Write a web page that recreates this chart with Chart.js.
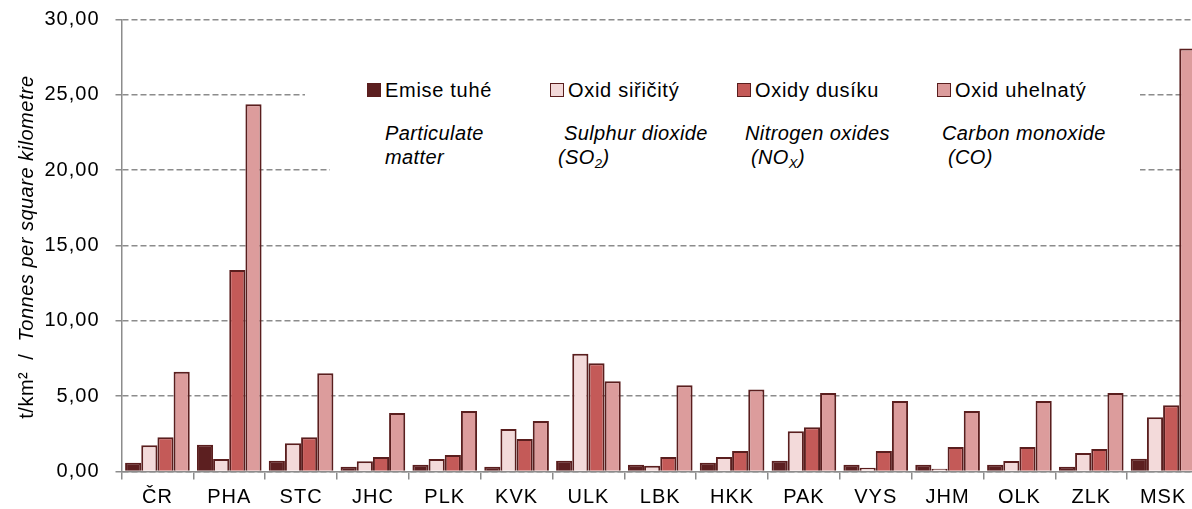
<!DOCTYPE html>
<html>
<head>
<meta charset="utf-8">
<script src="https://cdn.jsdelivr.net/npm/chart.js@4"></script>
<style>
  body { margin: 0; overflow: hidden; background: #fff; }
  #wrap { position: relative; width: 1199px; height: 509px; font-family: "Liberation Sans", Arial, sans-serif; }
  .box { position: absolute; background: #fff; }
  .t { position: absolute; white-space: nowrap; font-size: 20px; line-height: 24px; color: #000; letter-spacing: 0.7px; }
  .en { font-style: italic; letter-spacing: 0.4px; }
  .sq { position: absolute; width: 12px; height: 12px; border: 1px solid #5a1e1e; }
  sub { font-size: 13px; vertical-align: -4px; line-height: 0; }
  #ytitle { position: absolute; left: -174px; top: 235px; width: 400px; height: 24px; line-height: 24px;
            text-align: center; font-size: 20px; letter-spacing: 0.5px; transform: rotate(-90deg); white-space: nowrap; }
</style>
</head>
<body>
<div id="wrap">
  <canvas id="chart"></canvas>
  <div id="ytitle">t/km²&nbsp;&nbsp;/&nbsp;&nbsp;<i>Tonnes per square kilometre</i></div>
  <div class="box" style="left:305px;top:66px;width:835px;height:52px"></div>
  <div class="box" style="left:330px;top:118px;width:810px;height:72px"></div>
  <div id="legend"></div>
</div>
<script>
var categories = ['ČR', 'PHA', 'STC', 'JHC', 'PLK', 'KVK', 'ULK', 'LBK', 'HKK', 'PAK', 'VYS', 'JHM', 'OLK', 'ZLK', 'MSK'];
var seriesNames = ['Emise tuhé', 'Oxid siřičitý', 'Oxidy dusíku', 'Oxid uhelnatý'];
var seriesNamesEn = ['Particulate<br>matter', '&nbsp;Sulphur dioxide<br>(SO<sub>2</sub>)', 'Nitrogen oxides<br>&nbsp;(NO<sub>X</sub>)', 'Carbon monoxide<br>&nbsp;(CO)'];
var particulate = [0.58, 1.78, 0.72, 0.32, 0.45, 0.32, 0.72, 0.45, 0.58, 0.72, 0.45, 0.45, 0.45, 0.32, 0.85];
var sulphurDioxide = [1.74, 0.83, 1.87, 0.68, 0.83, 2.82, 7.82, 0.38, 0.96, 2.67, 0.25, 0.18, 0.70, 1.23, 3.60];
var nitrogenOxides = [2.27, 13.37, 2.27, 0.96, 1.09, 2.16, 7.18, 0.96, 1.36, 2.93, 1.36, 1.63, 1.63, 1.49, 4.39];
var carbonMonoxide = [6.62, 24.37, 6.52, 3.88, 4.01, 3.35, 5.99, 5.72, 5.45, 5.21, 4.68, 4.01, 4.68, 5.21, 28.08];
var yTicks = [0, 5, 10, 15, 20, 25, 30];

var colors = ['#5c1f20', '#f3dada', '#c45a58', '#dc9c9c'];
var edge = '#5a1e1e';
var values = [particulate, sulphurDioxide, nitrogenOxides, carbonMonoxide];

// legend as html, positions
var sqX = [367, 550, 737, 937];
var txX = [385, 568, 755, 955];
var enX = [385, 558, 745, 942];
var lg = document.getElementById('legend');
for (var i = 0; i < 4; i++) {
    lg.innerHTML += '<div class="sq" style="left:' + sqX[i] + 'px;top:83px;background:' + colors[i] + '"></div>' +
        '<div class="t" style="left:' + txX[i] + 'px;top:78px">' + seriesNames[i] + '</div>' +
        '<div class="t en" style="left:' + enX[i] + 'px;top:121px">' + seriesNamesEn[i] + '</div>';
}

var spacing = {
    id: 'spacing',
    beforeDraw: function (chart) { chart.ctx.letterSpacing = '1px'; }
};

var ctx = document.getElementById('chart').getContext('2d');
var chart = new Chart(ctx, {
    type: 'bar',
    data: {
        labels: categories,
        datasets: values.map(function (v, i) {
            return {
                label: seriesNames[i],
                data: v,
                backgroundColor: colors[i],
                borderColor: edge,
                borderWidth: 2,
                categoryPercentage: 0.9,
                barPercentage: 1.0
            };
        })
    },
    options: {
        responsive: true,
        maintainAspectRatio: false,
        animation: false,
        layout: { padding: { top: 19.5, right: 0, left: 0, bottom: 0 } },
        plugins: { legend: { display: false }, tooltip: { enabled: false } },
        scales: {
            x: {
                afterFit: function (s) { s.height = 37.5; s.paddingLeft = 0; s.paddingRight = 0; },
                grid: { display: true, drawOnChartArea: false, drawTicks: true, tickLength: 8, color: '#8c8c8c', lineWidth: 1.5, offset: true },
                border: { display: true, color: '#8c8c8c', width: 1.5 },
                ticks: { color: '#000', padding: 6, font: { family: 'Liberation Sans', size: 20 } }
            },
            y: {
                min: 0, max: 30,
                afterFit: function (s) { s.width = 121.5; s.paddingTop = 0; s.paddingBottom = 0; },
                afterBuildTicks: function (s) { s.ticks = yTicks.map(function (v) { return { value: v }; }); },
                grid: { color: '#8c8c8c', lineWidth: 1.5, tickLength: 6, drawTicks: true },
                border: { display: true, color: '#8c8c8c', width: 1.5, dash: [6, 3] },
                ticks: {
                    color: '#000', padding: 16,
                    font: { family: 'Liberation Sans', size: 20 },
                    callback: function (v) { return v.toFixed(2).replace('.', ','); }
                }
            }
        }
    },
    plugins: [spacing]
});
</script>
</body>
</html>
